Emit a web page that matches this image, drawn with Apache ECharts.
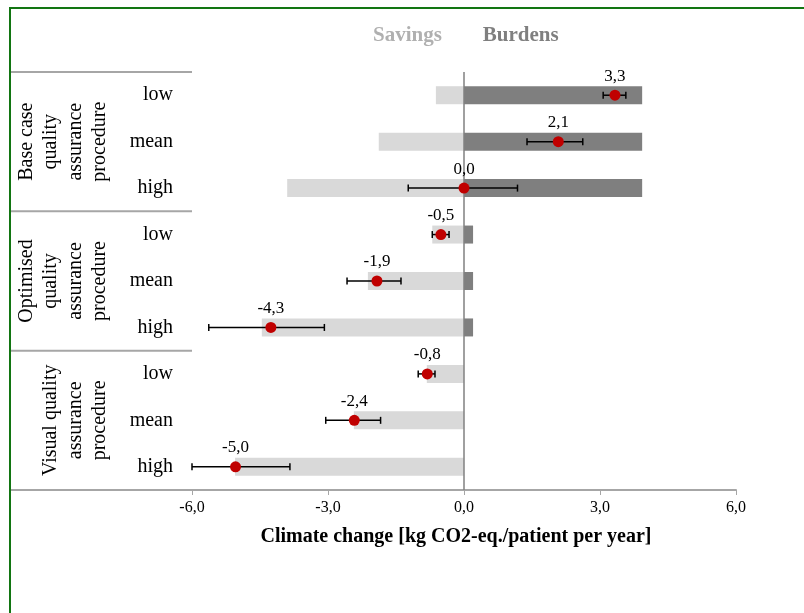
<!DOCTYPE html>
<html>
<head>
<meta charset="utf-8">
<script src="https://cdn.jsdelivr.net/npm/echarts@6/dist/echarts.min.js"></script>
<style>html,body{margin:0;padding:0;background:#fff}#c{width:804px;height:613px}</style>
</head>
<body>
<div id="c"></div>
<script>
const categories = ['low', 'mean', 'high', 'low', 'mean', 'high', 'low', 'mean', 'high'];
const groups = ['Base case\nquality\nassurance\nprocedure', 'Optimised\nquality\nassurance\nprocedure', 'Visual quality\nassurance\nprocedure'];
const groupSize = 3;
const savings = [-0.62, -1.88, -3.9, -0.7, -2.12, -4.46, -0.82, -2.43, -5.05];
const burdens = [3.93, 3.93, 3.93, 0.2, 0.2, 0.2, 0, 0, 0];
const points = [3.33, 2.08, 0.0, -0.51, -1.92, -4.26, -0.81, -2.42, -5.04];
const errLow = [3.07, 1.39, -1.23, -0.7, -2.58, -5.63, -1.01, -3.05, -6.0];
const errHigh = [3.57, 2.62, 1.18, -0.33, -1.39, -3.08, -0.64, -1.84, -3.84];
const xTicks = { min: -6, max: 6, interval: 3 };

const FONT = 'Liberation Serif';
const fmt = v => v.toFixed(1).replace('.', ',');

const chart = echarts.init(document.getElementById('c'), null, { renderer: 'canvas' });
const errData = errLow.map((lo, i) => [lo, errHigh[i], i]);

chart.setOption({
  animation: false,
  backgroundColor: '#fff',
  textStyle: { fontFamily: FONT },
  legend: {
    left: 363, top: 20, icon: 'none', itemWidth: 0, itemHeight: 0, itemGap: 36,
    selectedMode: false,
    data: [
      { name: 'Savings', textStyle: { color: '#b0b0b0' } },
      { name: 'Burdens', textStyle: { color: '#7f7f7f' } }
    ],
    textStyle: { fontFamily: FONT, fontSize: 21, fontWeight: 'bold' }
  },
  grid: { left: 192, right: 68, top: 72, bottom: 123 },
  xAxis: {
    type: 'value', min: xTicks.min, max: xTicks.max, interval: xTicks.interval,
    splitLine: { show: false },
    axisLine: { show: true, onZero: false, lineStyle: { color: '#a6a6a6', width: 2 } },
    axisTick: { show: true, length: 5, lineStyle: { color: '#a6a6a6', width: 1 } },
    axisLabel: { formatter: v => fmt(v), fontFamily: FONT, fontSize: 16, color: '#000', margin: 10 },
    name: 'Climate change [kg CO2-eq./patient per year]',
    nameLocation: 'middle', nameGap: 37,
    nameTextStyle: { fontFamily: FONT, fontSize: 20, fontWeight: 'bold', color: '#000', padding: [0, 16, 0, 0] }
  },
  yAxis: {
    type: 'category', data: categories, inverse: true,
    axisLine: { show: false }, axisTick: { show: false }, splitLine: { show: false },
    axisLabel: { fontFamily: FONT, fontSize: 20, color: '#000', margin: 19, padding: [6, 0, 0, 0] }
  },
  series: [
    {
      name: 'Savings', type: 'bar', data: savings, barWidth: 18, barGap: '-100%',
      itemStyle: { color: '#d9d9d9' }, z: 1,
      markLine: {
        silent: true, symbol: 'none', label: { show: false }, z: 2,
        lineStyle: { color: '#808080', width: 1.5, type: 'solid' },
        data: [{ xAxis: 0 }]
      }
    },
    {
      name: 'Burdens', type: 'bar', data: burdens, barWidth: 18, barGap: '-100%',
      itemStyle: { color: '#7f7f7f' }, z: 1
    },
    {
      name: 'err', type: 'custom', data: errData, z: 3,
      encode: { x: [0, 1], y: 2 },
      renderItem: (params, api) => {
        const idx = api.value(2);
        const p1 = api.coord([api.value(0), idx]);
        const p2 = api.coord([api.value(1), idx]);
        const h = 3.5;
        const st = { stroke: '#000', lineWidth: 1.5 };
        return {
          type: 'group',
          children: [
            { type: 'line', shape: { x1: p1[0], y1: p1[1], x2: p2[0], y2: p2[1] }, style: st },
            { type: 'line', shape: { x1: p1[0], y1: p1[1] - h, x2: p1[0], y2: p1[1] + h }, style: st },
            { type: 'line', shape: { x1: p2[0], y1: p2[1] - h, x2: p2[0], y2: p2[1] + h }, style: st }
          ]
        };
      }
    },
    {
      name: 'mean', type: 'scatter', data: points, symbolSize: 11, z: 6,
      itemStyle: { color: '#c00000', opacity: 1 },
      label: {
        show: true, position: 'top', distance: 5, formatter: p => fmt(p.value),
        fontFamily: FONT, fontSize: 17, color: '#000'
      }
    }
  ]
});

// table lines and group labels, positioned from axis scale
function decorate() {
  const yc = i => chart.convertToPixel({ yAxisIndex: 0 }, i);
  const step = yc(1) - yc(0);
  const gridLeft = chart.convertToPixel({ xAxisIndex: 0 }, xTicks.min);
  const elems = [
    { type: 'rect', shape: { x: 9, y: 7, width: 795, height: 2 }, style: { fill: '#127512' } },
    { type: 'rect', shape: { x: 9, y: 7, width: 2, height: 606 }, style: { fill: '#127512' } }
  ];
  for (let g = 0; g <= groups.length; g++) {
    const yy = yc(g * groupSize) - step / 2;
    elems.push({ type: 'line', shape: { x1: 11, y1: yy, x2: gridLeft, y2: yy }, style: { stroke: '#a6a6a6', lineWidth: 2 } });
  }
  groups.forEach((name, g) => {
    const yMid = (yc(g * groupSize) + yc(g * groupSize + groupSize - 1)) / 2;
    elems.push({
      type: 'text', x: 112, y: yMid, rotation: Math.PI / 2,
      style: { text: name, font: '20px "Liberation Serif"', fill: '#000', align: 'center', verticalAlign: 'bottom', lineHeight: 24.5 }
    });
  });
  chart.setOption({ graphic: elems });
}
decorate();
</script>
</body>
</html>
